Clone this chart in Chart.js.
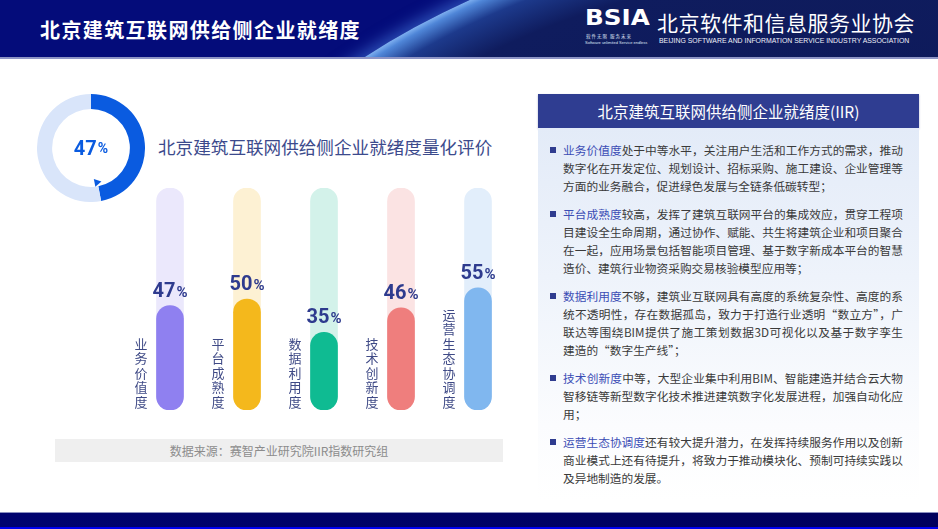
<!DOCTYPE html>
<html lang="zh-CN">
<head>
<meta charset="utf-8">
<script src="https://cdn.jsdelivr.net/npm/chart.js@4/dist/chart.umd.min.js"></script>
<style>
  html, body { margin: 0; padding: 0; background: #fff; }
  body { width: 938px; height: 529px; position: relative; overflow: hidden;
         font-family: "Noto Sans CJK SC", "Noto Sans", sans-serif; }
  .abs { position: absolute; }

  /* header band */
  #header { left: 0; top: 0; width: 938px; height: 57px; background: #040c7a;
            border-bottom: 2px solid #8e95c6; overflow: hidden; }
  #globe { left: 135px; top: -88px; width: 1530px; height: 1016px; border-radius: 50%;
           background: radial-gradient(closest-side, #0b1552 0%, #0f1c5e 90%, #1d3a8c 96%, #4f86d8 99%, #7fb0f0 100%);
           box-shadow: 0 0 14px 6px rgba(70,120,220,0.55); }
  #title { left: 40px; top: 15px; color: #fff; font-size: 20px; font-weight: 700; letter-spacing: 1.4px; }
  #bsia { left: 585px; top: 5px; color: #fff; font-family: "DejaVu Sans", sans-serif; font-weight: 700;
          font-size: 22px; transform: scaleX(1.12); transform-origin: left; }
  #bsiaSub1 { left: 586px; top: 33px; color: #dfe3f5; font-size: 4.5px; letter-spacing: 1px; }
  #bsiaSub2 { left: 585px; top: 40px; color: #dfe3f5; font-size: 4px; font-family: "Liberation Sans", sans-serif; }
  #org { left: 657px; top: 7px; color: #fff; font-size: 21px; letter-spacing: 0.5px; }
  #orgEn { left: 659px; top: 37px; color: #eef0fa; font-size: 6.9px; font-family: "Liberation Sans", sans-serif; white-space: nowrap; }

  /* left side */
  #donutWrap { left: 37px; top: 94px; width: 108px; height: 108px; }
  #donutText { left: 37px; top: 94px; width: 108px; height: 108px; display: flex; align-items: center; justify-content: center;
               color: #0a5be0; font-family: Roboto, sans-serif; font-weight: 700; font-size: 20px; }
  #donutText small { font-size: 14px; margin-left: 1px; }
  #subTitle { left: 158px; top: 134px; color: #3c4a8c; font-size: 17.6px; }
  #barWrap { left: 100px; top: 180px; width: 420px; height: 240px; }
  #source { left: 55px; top: 439px; width: 448px; height: 23px; background: #efefef; color: #8c8c8c;
            font-size: 12px; line-height: 23px; text-align: center; }

  /* right panel */
  #panelHead { left: 538px; top: 94px; width: 381px; height: 34px; background: #2f3d91; color: #fff;
               font-size: 15.5px; line-height: 34px; text-align: center; box-shadow: 0 1px 2px rgba(40,50,120,0.35); }
  #panelBody { left: 538px; top: 128px; width: 381px; height: 372px;
               background: linear-gradient(180deg, #e3ebf8 0%, #eef3fb 40%, #fbfcfe 80%, #ffffff 100%); }
  .para { position: absolute; left: 25px; width: 340px; color: #3a3a3a; font-size: 11.7px; line-height: 18px; }
  .para .ln { text-align: justify; text-align-last: justify; white-space: nowrap; }
  .para .ln.last { text-align-last: left; }
  .para .hl { color: #3b4db5; }
  .para .dot { position: absolute; left: -13px; top: 6px; width: 6px; height: 6px; background: #2f3c8f; }

  #footer { left: 0; top: 512px; width: 938px; height: 14px; background: linear-gradient(90deg, #00036f, #00005c);
            border-top: 1px solid #8a8fc0; }
  #footerLine { left: 0; top: 527px; width: 938px; height: 2px; background: #0000ee; }
</style>
</head>
<body>
<div id="header" class="abs"><div id="globe" class="abs"></div></div>
<div id="title" class="abs">北京建筑互联网供给侧企业就绪度</div>
<div id="bsia" class="abs">BSIA</div>
<div id="bsiaSub1" class="abs">软件无限 服务未来</div>
<div id="bsiaSub2" class="abs">Software unlimited Service endless</div>
<div id="org" class="abs">北京软件和信息服务业协会</div>
<div id="orgEn" class="abs">BEIJING SOFTWARE AND INFORMATION SERVICE INDUSTRY ASSOCIATION</div>

<div id="donutWrap" class="abs"><canvas id="donutChart" width="108" height="108"></canvas></div>
<div id="donutText" class="abs"><span id="donutVal"></span><small>%</small></div>
<div id="subTitle" class="abs">北京建筑互联网供给侧企业就绪度量化评价</div>
<div id="barWrap" class="abs"><canvas id="barChart" width="420" height="240"></canvas></div>
<div id="source" class="abs">数据来源：赛智产业研究院IIR指数研究组</div>

<div id="panelHead" class="abs">北京建筑互联网供给侧企业就绪度(IIR)</div>
<div id="panelBody" class="abs"></div>

<div id="footer" class="abs"></div>
<div id="footerLine" class="abs"></div>

<script>
// --------------------
// Data
// --------------------
const overallScore = 47;
const categories = ["业务价值度", "平台成熟度", "数据利用度", "技术创新度", "运营生态协调度"];
const scoreValues = [47, 50, 35, 46, 55];
const fullScale = [100, 100, 100, 100, 100];
const barColors = ["#8f80f0", "#f4b81c", "#0fbb92", "#ef7e7d", "#80b7ef"];
const trackColors = ["#ebe8fc", "#fdf1d3", "#d3f2ea", "#fbe3e3", "#e2eefb"];

// Panel text, one entry per line so the wrap matches the slide
const panelParas = [
  { key: "业务价值度", lines: [
    "处于中等水平，关注用户生活和工作方式的需求，推动",
    "数字化在开发定位、规划设计、招标采购、施工建设、企业管理等",
    "方面的业务融合，促进绿色发展与全链条低碳转型；"] },
  { key: "平台成熟度", lines: [
    "较高，发挥了建筑互联网平台的集成效应，贯穿工程项",
    "目建设全生命周期，通过协作、赋能、共生将建筑企业和项目聚合",
    "在一起，应用场景包括智能项目管理、基于数字新成本平台的智慧",
    "造价、建筑行业物资采购交易核验模型应用等；"] },
  { key: "数据利用度", lines: [
    "不够，建筑业互联网具有高度的系统复杂性、高度的系",
    "统不透明性，存在数据孤岛，致力于打造行业透明“数立方”，广",
    "联达等围绕BIM提供了施工策划数据3D可视化以及基于数字孪生",
    "建造的“数字生产线”；"] },
  { key: "技术创新度", lines: [
    "中等，大型企业集中利用BIM、智能建造并结合云大物",
    "智移链等新型数字化技术推进建筑数字化发展进程，加强自动化应",
    "用；"] },
  { key: "运营生态协调度", lines: [
    "还有较大提升潜力，在发挥持续服务作用以及创新",
    "商业模式上还有待提升，将致力于推动模块化、预制可持续实践以",
    "及异地制造的发展。"] }
];

// --------------------
// Right panel text
// --------------------
function buildPanel() {
    const body = document.getElementById("panelBody");
    let top = 13;
    panelParas.forEach(p => {
        const div = document.createElement("div");
        div.className = "para";
        div.style.top = top + "px";
        let html = `<span class="dot"></span>`;
        p.lines.forEach((ln, i) => {
            const cls = i === p.lines.length - 1 ? "ln last" : "ln";
            const text = i === 0 ? `<span class="hl">${p.key}</span>${ln}` : ln;
            html += `<div class="${cls}">${text}</div>`;
        });
        div.innerHTML = html;
        body.appendChild(div);
        top += p.lines.length * 18 + 10;
    });
}

// --------------------
// Donut
// --------------------
const donutMarker = {
    id: "donutMarker",
    afterDatasetsDraw(chart) {
        const arc = chart.getDatasetMeta(0).data[0];
        const ctx = chart.ctx;
        const a = arc.endAngle;
        const r = arc.innerRadius - 4;
        const x = arc.x + Math.cos(a) * r;
        const y = arc.y + Math.sin(a) * r;
        ctx.save();
        ctx.translate(x, y);
        ctx.rotate(a + Math.PI / 2);
        ctx.fillStyle = "#0a5be0";
        ctx.beginPath();
        ctx.moveTo(3, -4);
        ctx.lineTo(3, 4);
        ctx.lineTo(-4, 0);
        ctx.closePath();
        ctx.fill();
        ctx.restore();
    }
};

function renderDonut() {
    document.getElementById("donutVal").textContent = overallScore;
    new Chart(document.getElementById("donutChart"), {
        type: "doughnut",
        data: {
            labels: ["就绪度", "其余"],
            datasets: [{
                data: [overallScore, 100 - overallScore],
                backgroundColor: ["#0a5be0", "#d9e5fa"],
                borderWidth: 0
            }]
        },
        options: {
            responsive: false,
            animation: false,
            cutout: "72%",
            plugins: { legend: { display: false }, tooltip: { enabled: false } }
        },
        plugins: [donutMarker]
    });
}

// --------------------
// Bars
// --------------------
const barLabels = {
    id: "barLabels",
    afterDatasetsDraw(chart) {
        const ctx = chart.ctx;
        const meta = chart.getDatasetMeta(0);
        const base = chart.scales.y.getPixelForValue(0);
        meta.data.forEach((bar, i) => {
            ctx.save();
            // value label
            const num = String(scoreValues[i]);
            ctx.fillStyle = "#2e3b8e";
            ctx.textBaseline = "alphabetic";
            ctx.textAlign = "left";
            ctx.font = "bold 20px Roboto";
            const w1 = ctx.measureText(num).width;
            ctx.font = "bold 15px Roboto";
            const w2 = ctx.measureText("%").width;
            const x0 = bar.x - (w1 + w2 + 1) / 2;
            const yb = bar.y - 9;
            ctx.font = "bold 20px Roboto";
            ctx.fillText(num, x0, yb);
            ctx.font = "bold 15px Roboto";
            ctx.fillText("%", x0 + w1 + 1, yb);

            // vertical category label
            const chars = [...categories[i]];
            ctx.fillStyle = "#3f4a86";
            ctx.font = '13px "Noto Sans CJK SC"';
            ctx.textAlign = "center";
            ctx.textBaseline = "middle";
            chars.forEach((c, k) => {
                ctx.fillText(c, bar.x - 29, base - 8 - (chars.length - 1 - k) * 14.5);
            });
            ctx.restore();
        });
    }
};

function renderBars() {
    new Chart(document.getElementById("barChart"), {
        type: "bar",
        data: {
            labels: categories,
            datasets: [
                {
                    label: "得分",
                    data: scoreValues,
                    backgroundColor: barColors,
                    barThickness: 27,
                    borderRadius: 14,
                    borderSkipped: false,
                    grouped: false,
                    order: 1
                },
                {
                    label: "满分",
                    data: fullScale,
                    backgroundColor: trackColors,
                    barThickness: 27,
                    borderRadius: 14,
                    borderSkipped: false,
                    grouped: false,
                    order: 2
                }
            ]
        },
        options: {
            responsive: false,
            animation: false,
            layout: { padding: { left: 31.5, right: 3.5, top: 8, bottom: 10 } },
            scales: {
                x: { display: false },
                y: { display: false, min: 0, max: 100 }
            },
            plugins: { legend: { display: false }, tooltip: { enabled: false } }
        },
        plugins: [barLabels]
    });
}

document.addEventListener("DOMContentLoaded", () => {
    buildPanel();
    renderDonut();
    renderBars();
});
</script>
</body>
</html>
